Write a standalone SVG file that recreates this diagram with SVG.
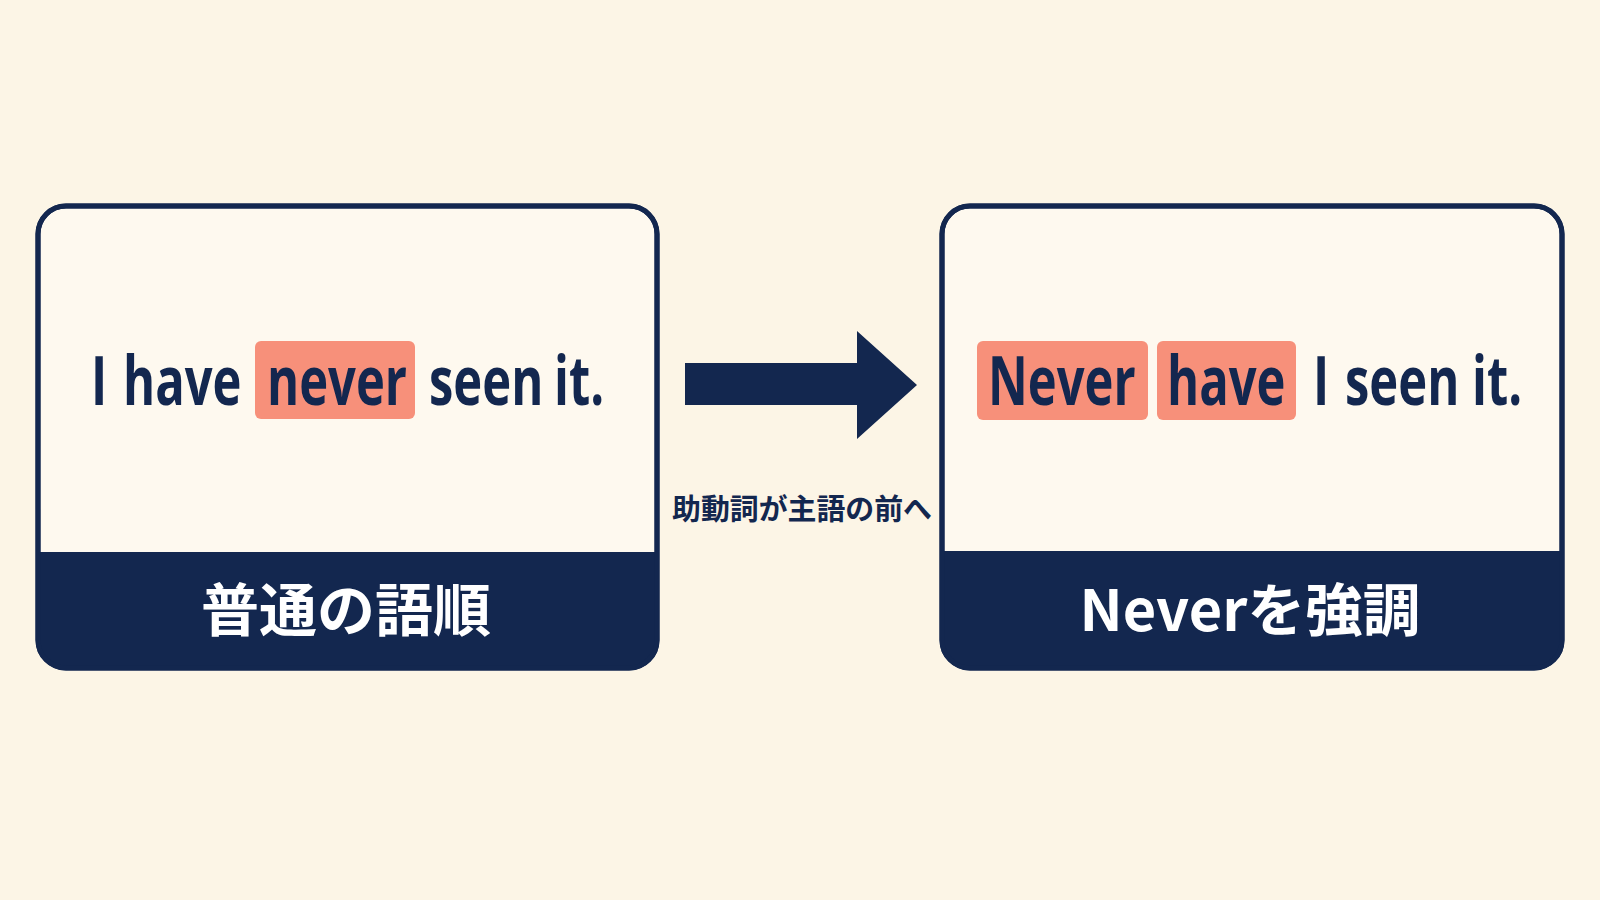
<svg xmlns="http://www.w3.org/2000/svg" width="1600" height="900" viewBox="0 0 1600 900">
<style>
.frame{fill:#FEF9EF;stroke:#13274F;stroke-width:5}
.band{fill:#13274F}
.hl{fill:#F7907A}
.sent{font-family:"Open Sans","Noto Sans","Liberation Sans",sans-serif;font-weight:700;font-size:68px;fill:#13274F}
.cap{font-family:"Noto Sans CJK JP","Noto Sans",sans-serif;font-weight:700;font-size:57px;fill:#FFFFFF}
.lbl{font-family:"Noto Sans CJK JP","Noto Sans",sans-serif;font-weight:700;font-size:29px;fill:#13274F}
</style>
<defs>
<clipPath id="clipL"><rect x="38" y="206" width="619" height="462" rx="28"/></clipPath>
<clipPath id="clipR"><rect x="942" y="206" width="620" height="462" rx="28"/></clipPath>
</defs>
<rect x="0" y="0" width="1600" height="900" fill="#FCF5E6"/>
<g id="node-normal">
<rect class="frame" x="38" y="206" width="619" height="462" rx="28"/>
<rect class="band" x="38" y="552" width="619" height="120" clip-path="url(#clipL)"/>
<rect x="38" y="206" width="619" height="462" rx="28" fill="none" stroke="#13274F" stroke-width="5"/>
<rect class="hl" x="255" y="341" width="160" height="78" rx="6"/>
<text class="sent" y="405" transform="scale(0.72,1)"><tspan x="126.4">I</tspan><tspan x="170.8">have</tspan><tspan x="370.8">never</tspan><tspan x="595.8">seen</tspan><tspan x="769.4">it.</tspan></text>
<text class="cap" x="346" y="631" text-anchor="middle" textLength="290" lengthAdjust="spacingAndGlyphs">普通の語順</text>
</g>
<g id="connectors">
<polygon points="685,363 857,363 857,331 917,385 857,439 857,405 685,405" fill="#13274F"/>
<text class="lbl" x="802" y="520" text-anchor="middle" textLength="260" lengthAdjust="spacingAndGlyphs">助動詞が主語の前へ</text>
</g>
<g id="node-inverted">
<rect class="frame" x="942" y="206" width="620" height="462" rx="28"/>
<rect class="band" x="942" y="551" width="620" height="121" clip-path="url(#clipR)"/>
<rect x="942" y="206" width="620" height="462" rx="28" fill="none" stroke="#13274F" stroke-width="5"/>
<rect class="hl" x="977" y="341" width="171" height="79" rx="6"/>
<rect class="hl" x="1157" y="341" width="139" height="79" rx="6"/>
<text class="sent" y="405" transform="scale(0.72,1)"><tspan x="1372.2">Never</tspan><tspan x="1620.8">have</tspan><tspan x="1823.6">I</tspan><tspan x="1868.1">seen</tspan><tspan x="2044.4">it.</tspan></text>
<text class="cap" x="1250" y="631" text-anchor="middle" textLength="341" lengthAdjust="spacingAndGlyphs">Neverを強調</text>
</g>
</svg>
